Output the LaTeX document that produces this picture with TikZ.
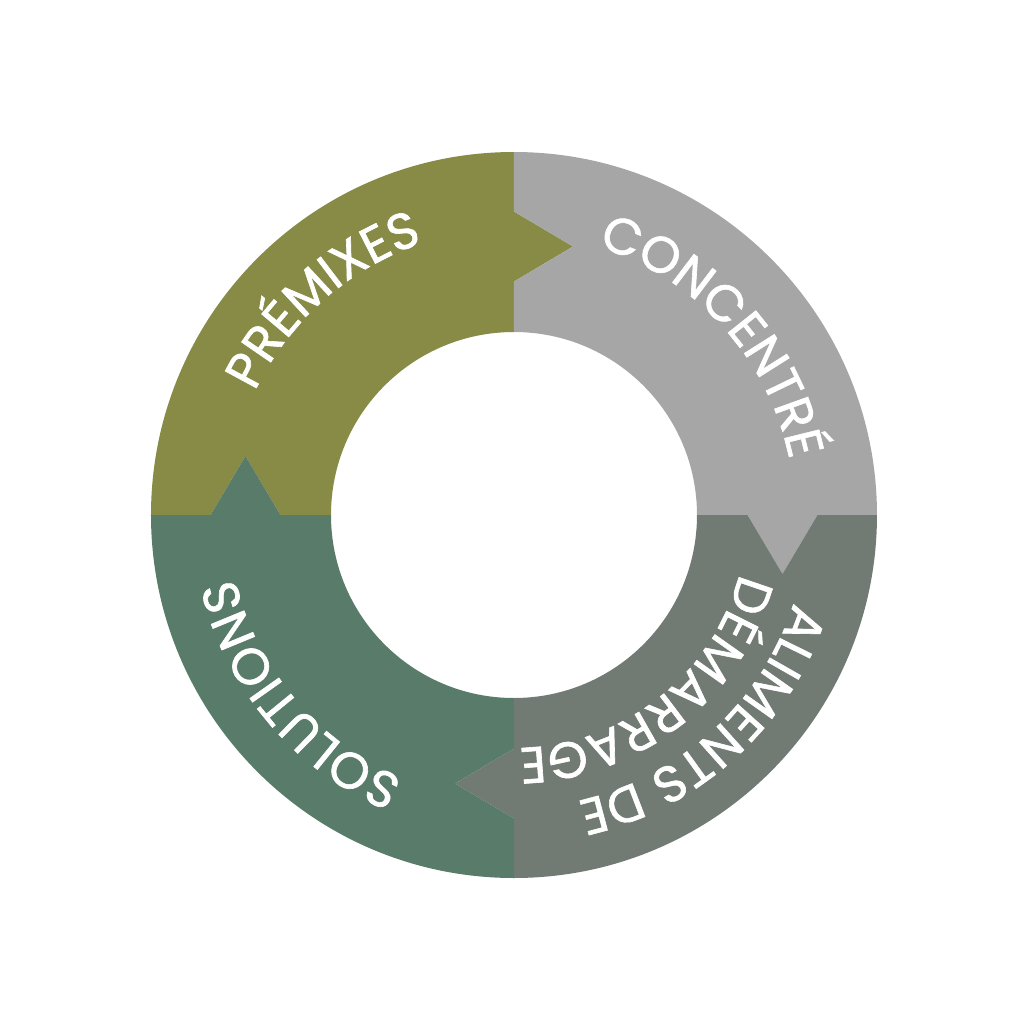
\documentclass[tikz,border=0pt]{standalone}
\usepackage{fontspec}
\newfontfamily\ringfont{Poppins}[FakeBold=1.2]
\usetikzlibrary{decorations.text}
\definecolor{premix}{RGB}{135,139,69}
\definecolor{concentre}{RGB}{166,166,166}
\definecolor{demarrage}{RGB}{113,123,116}
\definecolor{solution}{RGB}{89,124,106}
\begin{document}
\begin{tikzpicture}[
	ringtext/.style={decorate,decoration={text along path,text align=center,text={|\fontsize{14.5}{14.5}\selectfont\ringfont\color{white}|#1}}}
]
	\useasboundingbox (-5.14,-5.09) rectangle (5.10,5.15); %frame

	%quarters
	\fill[premix] (0,1.83) -- (0,2.335) -- (0.59,2.685) -- (0,3.035) -- (0,3.63) arc[start angle=90,end angle=180,radius=3.63] -- (-3.035,0) -- (-2.685,0.59) -- (-2.335,0) -- (-1.83,0) arc[start angle=180,end angle=90,radius=1.83] -- cycle; %premixes
	\fill[concentre,rotate=-90] (0,1.83) -- (0,2.335) -- (0.59,2.685) -- (0,3.035) -- (0,3.63) arc[start angle=90,end angle=180,radius=3.63] -- (-3.035,0) -- (-2.685,0.59) -- (-2.335,0) -- (-1.83,0) arc[start angle=180,end angle=90,radius=1.83] -- cycle; %concentre
	\fill[demarrage,rotate=-180] (0,1.83) -- (0,2.335) -- (0.59,2.685) -- (0,3.035) -- (0,3.63) arc[start angle=90,end angle=180,radius=3.63] -- (-3.035,0) -- (-2.685,0.59) -- (-2.335,0) -- (-1.83,0) arc[start angle=180,end angle=90,radius=1.83] -- cycle; %demarrage
	\fill[solution,rotate=-270] (0,1.83) -- (0,2.335) -- (0.59,2.685) -- (0,3.035) -- (0,3.63) arc[start angle=90,end angle=180,radius=3.63] -- (-3.035,0) -- (-2.685,0.59) -- (-2.335,0) -- (-1.83,0) arc[start angle=180,end angle=90,radius=1.83] -- cycle; %solutions

	%labels
	\path[ringtext={PRÉMIXES}] (171.5:2.87) arc[start angle=171.5,end angle=91.5,radius=2.87]; %premixes label
	\path[ringtext={CONCENTRÉ}] (82:2.81) arc[start angle=82,end angle=2,radius=2.81]; %concentre label
	\path[ringtext={ALIMENTS DE}] (-2.5:2.93) arc[start angle=-2.5,end angle=-92.5,radius=2.93]; %demarrage label 1
	\path[ringtext={DÉMARRAGE}] (-6.7:2.33) arc[start angle=-6.7,end angle=-96.7,radius=2.33]; %demarrage label 2
	\path[ringtext={SOLUTIONS}] (265:2.86) arc[start angle=265,end angle=175,radius=2.86]; %solutions label
\end{tikzpicture}
\end{document}
